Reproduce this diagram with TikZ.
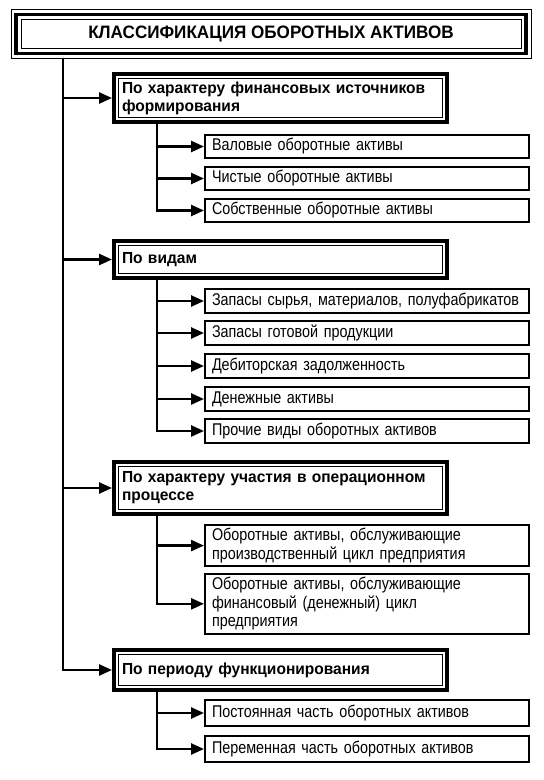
\documentclass[tikz,border=0pt]{standalone}
\usepackage{fontspec}
\setmainfont{Liberation Sans}
\newfontfamily\ttlfont{Liberation Sans}[FakeStretch=0.95]
\newfontfamily\catfont{Liberation Sans}[FakeStretch=0.97]
\newfontfamily\subfont{Liberation Sans}[FakeStretch=0.845]
\usetikzlibrary{arrows.meta}

\begin{document}
\begin{tikzpicture}[x=1pt,y=-1pt,
  headbox/.style={draw,line width=3.5pt,outer sep=0pt,minimum width=510pt,minimum height=39pt,
    font=\ttlfont\bfseries\fontsize{18}{20}\selectfont},
  catbox/.style={draw,line width=4pt,anchor=north west,inner xsep=8pt,text width=317pt,align=left,
    font=\catfont\bfseries\fontsize{16}{18}\selectfont},
  subbox/.style={draw,line width=2pt,anchor=north west,inner xsep=7pt,text width=310pt,align=left,
    font=\subfont\fontsize{17}{18.5}\selectfont},
  frame/.style={line width=1pt},
  arr/.style={line width=2.5pt,-{Triangle[length=13pt,width=11pt]}}]
\useasboundingbox (0,0) rectangle (544,780);

% title
\node[headbox] (head) at (271,34) {КЛАССИФИКАЦИЯ ОБОРОТНЫХ АКТИВОВ};
\draw[frame] ([shift={(-5,-5)}]head.north west) rectangle ([shift={(5,5)}]head.south east);
\draw[frame] ([shift={(5,5)}]head.north west) rectangle ([shift={(-5,-5)}]head.south east);

% groups
\node[catbox,minimum height=48pt] (c1) at (112,72) {По характеру финансовых источников\\формирования};
\node[catbox,minimum height=37pt] (c2) at (112,239) {По видам};
\node[catbox,minimum height=52pt] (c3) at (112,460) {По характеру участия в операционном\\процессе};
\node[catbox,minimum height=40pt] (c4) at (112,648) {По периоду функционирования};
\foreach \c in {c1,c2,c3,c4}
  \draw[frame] ([shift={(6.5,6.5)}]\c.north west) rectangle ([shift={(-6.5,-6.5)}]\c.south east);

% items
\node[subbox,minimum height=23pt] (s11) at (204,134) {Валовые оборотные активы};
\node[subbox,minimum height=23pt] (s12) at (204,166) {Чистые оборотные активы};
\node[subbox,minimum height=23pt] (s13) at (204,198) {Собственные оборотные активы};

\node[subbox,minimum height=24pt] (s21) at (204,288) {\mbox{Запасы сырья, материалов, полуфабрикатов}};
\node[subbox,minimum height=24pt] (s22) at (204,320) {Запасы готовой продукции};
\node[subbox,minimum height=24pt] (s23) at (204,353) {Дебиторская задолженность};
\node[subbox,minimum height=24pt] (s24) at (204,386) {Денежные активы};
\node[subbox,minimum height=24pt] (s25) at (204,418) {Прочие виды оборотных активов};

\node[subbox,minimum height=39pt] (s31) at (204,524) {Оборотные активы, обслуживающие\\производственный цикл предприятия};
\node[subbox,minimum height=58pt] (s32) at (204,573) {Оборотные активы, обслуживающие\\финансовый (денежный) цикл\\предприятия};

\node[subbox,minimum height=26pt] (s41) at (204,699) {Постоянная часть оборотных активов};
\node[subbox,minimum height=26pt] (s42) at (204,735) {Переменная часть оборотных активов};

% connectors
\coordinate (tr) at (63,57.5);
\foreach \c in {c1,c2,c3,c4}
  \draw[arr] (tr) |- (\c.west);

\coordinate (b1) at ([xshift=45pt]c1.south west);
\coordinate (b2) at ([xshift=45pt]c2.south west);
\coordinate (b3) at ([xshift=45pt]c3.south west);
\coordinate (b4) at ([xshift=45pt]c4.south west);
\foreach \s in {s11,s12,s13}
  \draw[arr] (b1) |- (\s.west);
\foreach \s in {s21,s22,s23,s24,s25}
  \draw[arr] (b2) |- (\s.west);
\foreach \s in {s31,s32}
  \draw[arr] (b3) |- (\s.west);
\foreach \s in {s41,s42}
  \draw[arr] (b4) |- (\s.west);
\end{tikzpicture}
\end{document}
